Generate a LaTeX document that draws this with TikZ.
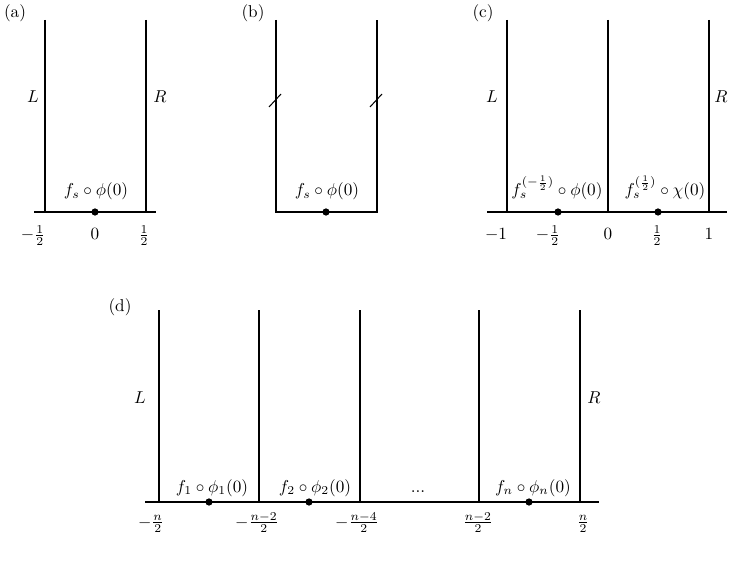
\documentclass[tikz,border=0pt]{standalone}
\begin{document}
\begin{tikzpicture}[x=0.02044cm,y=-0.02044cm,
  wall/.style={line width=0.8pt},
  base/.style={line width=0.8pt},
  dotmark/.style={circle,fill=black,inner sep=0pt,minimum size=4.2pt},
  lab/.style={anchor=base,inner sep=0pt},
  tick/.style={anchor=base,inner sep=0pt},
  side/.style={inner sep=0pt},
  panel/.style={inner sep=0pt}]
\useasboundingbox (0,0) rectangle (734,565);

% ---------- (a)
\node[panel] (pa) at (15,13) {(a)};
\coordinate (aLt) at (45,20); \coordinate (aLb) at (45,212);
\coordinate (aRt) at (146,20); \coordinate (aRb) at (146,212);
\coordinate (aB0) at (34,212); \coordinate (aB1) at (156,212);
\draw[wall] (aLt) -- (aLb);
\draw[wall] (aRt) -- (aRb);
\draw[base] (aB0) -- (aB1);
\node[dotmark] (ad) at (95,212) {};
\node[lab] (alab) at (96,196) {$f_s\circ\phi(0)$};
\node[side] (aL) at (33,97) {$L$};
\node[side] (aR) at (160,97) {$R$};
\node[tick] (at1) at (33,240) {$-\frac{1}{2}$};
\node[tick] (at2) at (95,240) {$0$};
\node[tick] (at3) at (144,240) {$\frac{1}{2}$};

% ---------- (b)
\node[panel] (pb) at (253,13) {(b)};
\coordinate (bLt) at (276,20); \coordinate (bLb) at (276,212);
\coordinate (bRt) at (377,20); \coordinate (bRb) at (377,212);
\draw[wall] (bLt) -- (bLb) -- (bRb) -- (bRt);
\node[dotmark] (bd) at (326,212) {};
\node[lab] (blab) at (327,196) {$f_s\circ\phi(0)$};
\coordinate (bs1a) at (269,107); \coordinate (bs1b) at (281,94);
\coordinate (bs2a) at (370,107); \coordinate (bs2b) at (382,94);
\draw[line width=0.6pt] (bs1a) -- (bs1b);
\draw[line width=0.6pt] (bs2a) -- (bs2b);

% ---------- (c)
\node[panel] (pc) at (483,13) {(c)};
\coordinate (c1t) at (507,20); \coordinate (c1b) at (507,212);
\coordinate (c2t) at (608,20); \coordinate (c2b) at (608,212);
\coordinate (c3t) at (709,20); \coordinate (c3b) at (709,212);
\coordinate (cB0) at (487,212); \coordinate (cB1) at (727,212);
\draw[wall] (c1t) -- (c1b);
\draw[wall] (c2t) -- (c2b);
\draw[wall] (c3t) -- (c3b);
\draw[base] (cB0) -- (cB1);
\node[dotmark] (cd1) at (558,212) {};
\node[dotmark] (cd2) at (658,212) {};
\node[lab] (clab1) at (557,196) {$f_s^{(-\frac{1}{2})}\circ\phi(0)$};
\node[lab] (clab2) at (665,196) {$f_s^{(\frac{1}{2})}\circ\chi(0)$};
\node[side] (cL) at (492,97) {$L$};
\node[side] (cR) at (721,97) {$R$};
\node[tick] (ct1) at (496,240) {$-1$};
\node[tick] (ct2) at (548,240) {$-\frac{1}{2}$};
\node[tick] (ct3) at (608,240) {$0$};
\node[tick] (ct4) at (657,240) {$\frac{1}{2}$};
\node[tick] (ct5) at (709,240) {$1$};

% ---------- (d)
\node[panel] (pd) at (120,307) {(d)};
\foreach \i/\xx in {1/159,2/259,3/360,4/479,5/580}{
  \coordinate (d\i t) at (\xx,310);
  \coordinate (d\i b) at (\xx,502);
  \draw[wall] (d\i t) -- (d\i b);
}
\coordinate (dB0) at (145,502); \coordinate (dB1) at (599,502);
\draw[base] (dB0) -- (dB1);
\node[dotmark] (dd1) at (209,502) {};
\node[dotmark] (dd2) at (309,502) {};
\node[dotmark] (dd3) at (529,502) {};
\node[lab] (dlab1) at (212,492) {$f_1\circ\phi_1(0)$};
\node[lab] (dlab2) at (315,492) {$f_2\circ\phi_2(0)$};
\node[lab] (dlab3) at (418,492) {...};
\node[lab] (dlab4) at (533,492) {$f_n\circ\phi_n(0)$};
\node[side] (dL) at (140,398) {$L$};
\node[side] (dR) at (594,398) {$R$};
\node[tick] (dt1) at (151,527) {$-\frac{n}{2}$};
\node[tick] (dt2) at (257,527) {$-\frac{n-2}{2}$};
\node[tick] (dt3) at (357,527) {$-\frac{n-4}{2}$};
\node[tick] (dt4) at (478,527) {$\frac{n-2}{2}$};
\node[tick] (dt5) at (583,527) {$\frac{n}{2}$};
\end{tikzpicture}
\end{document}
